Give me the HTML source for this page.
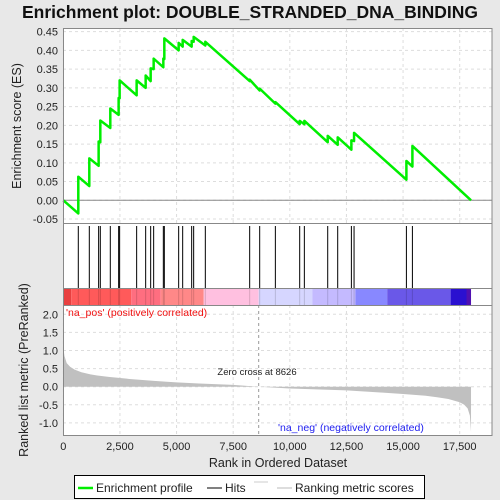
<!DOCTYPE html>
<html><head><meta charset="utf-8"><style>
html,body{margin:0;padding:0;background:#e8e8e8;}
svg{display:block;font-family:"Liberation Sans",sans-serif;}
</style></head><body>
<svg id="chart" width="500" height="500" viewBox="0 0 500 500">
<rect x="0" y="0" width="500" height="500" fill="#e8e8e8"/>
<text x="250" y="18" text-anchor="middle" font-size="17.5" font-weight="bold" fill="#111">Enrichment plot: DOUBLE_STRANDED_DNA_BINDING</text>
<rect x="63" y="28" width="429" height="407" fill="#fff"/>
<g id="grid"></g>
<g id="colorbar"></g>
<g id="metric"></g>
<g id="hits"></g>
<g id="es"></g>
<g id="axes"></g>
<text transform="translate(21,126) rotate(-90)" text-anchor="middle" font-size="12.5" fill="#222">Enrichment score (ES)</text>
<text transform="translate(28,370) rotate(-90)" text-anchor="middle" font-size="12.5" fill="#222">Ranked list metric (PreRanked)</text>
<text x="278" y="467" text-anchor="middle" font-size="12.5" fill="#222">Rank in Ordered Dataset</text>
<text x="66" y="316" font-size="10.5" fill="#f01010">'na_pos' (positively correlated)</text>
<text x="278" y="431" font-size="10.5" fill="#2020f0">'na_neg' (negatively correlated)</text>
<text x="257" y="375" text-anchor="middle" font-size="9.5" fill="#222">Zero cross at 8626</text>
<g>
<rect x="74.5" y="475.5" width="350" height="23" fill="#fff" stroke="#000"/>
<line x1="78" y1="488" x2="93" y2="488" stroke="#00ee00" stroke-width="2.5"/>
<text x="96" y="492" font-size="12" fill="#222">Enrichment profile</text>
<line x1="207" y1="488" x2="222" y2="488" stroke="#000" stroke-width="1"/>
<text x="225" y="492" font-size="12" fill="#222">Hits</text>
<line x1="254" y1="482" x2="268" y2="482" stroke="#ccc" stroke-width="1"/>
<line x1="277" y1="488" x2="292" y2="488" stroke="#bbb" stroke-width="1"/>
<text x="295" y="492" font-size="12" fill="#222">Ranking metric scores</text>
</g>
</svg>
<script>
const hitRanks=[662,1148,1560,1634,2075,2443,2487,3238,3636,3857,3989,4416,4460,5093,5270,5667,5755,6270,8228,8670,9362,10436,10642,11673,12114,12718,12836,15147,15412];
const esBefore=[-0.035,0.038,0.092,0.155,0.193,0.228,0.272,0.28,0.30,0.318,0.35,0.355,0.377,0.40,0.41,0.41,0.423,0.413,0.318,0.293,0.258,0.203,0.203,0.155,0.148,0.135,0.158,0.055,0.09];
const esAfter=[0.063,0.112,0.157,0.213,0.245,0.273,0.32,0.32,0.333,0.352,0.378,0.378,0.432,0.42,0.428,0.425,0.436,0.423,0.322,0.298,0.262,0.212,0.212,0.172,0.168,0.16,0.18,0.105,0.145];
const totalRanks=18000;
const metricRanks=[0,50,150,300,500,800,1200,1500,2000,3000,4000,5000,6000,7500,8626,10000,11000,12500,14000,15000,16000,16500,17000,17500,17700,17850,17950,18000];
const metricVals=[1.1,0.85,0.65,0.55,0.47,0.40,0.34,0.31,0.27,0.21,0.16,0.12,0.09,0.05,0,-0.05,-0.07,-0.1,-0.16,-0.2,-0.25,-0.29,-0.34,-0.43,-0.5,-0.6,-0.8,-1.25];
const esTicks=[0.45,0.40,0.35,0.30,0.25,0.20,0.15,0.10,0.05,0.00,-0.05];
const metricTicks=[2.0,1.5,1.0,0.5,0.0,-0.5,-1.0];
const xTicks=[0,2500,5000,7500,10000,12500,15000,17500];
const barStops=[0,350,3000,4300,6200,8626,11000,12900,14300,17100,17800,18000];
const barColors=["#e84040","#ff5a5a","#ff6e80","#ff8888","#ffc0e0","#d6d6ff","#c4baff","#8888ff","#6a58e8","#2a10d0","#5010b0"];

const NS="http://www.w3.org/2000/svg";
const X=r=>63.3+r*(459.7-63.3)/17500;
const YE=v=>200.3-v*374.8;
const YM=v=>386.7-v*36.2;
function mk(tag,attrs,parent){const e=document.createElementNS(NS,tag);for(const k in attrs)e.setAttribute(k,attrs[k]);parent.appendChild(e);return e;}
const grid=document.getElementById('grid'),axes=document.getElementById('axes');
esTicks.forEach(t=>{
  const g=mk('line',{x1:63,x2:492,y1:YE(t),y2:YE(t),stroke:'#ddd','stroke-dasharray':'3,3'},grid);
  
  
  const tx=mk('text',{x:58,y:YE(t)+4,'text-anchor':'end','font-size':'11',fill:'#222'},axes);
  tx.textContent=t.toFixed(2);
  
  
});
metricTicks.forEach(t=>{
  const g=mk('line',{x1:63,x2:492,y1:YM(t),y2:YM(t),stroke:'#ddd','stroke-dasharray':'3,3'},grid);
  
  
  const tx=mk('text',{x:58,y:YM(t)+4,'text-anchor':'end','font-size':'11',fill:'#222'},axes);
  tx.textContent=t.toFixed(1);
  
  
});
xTicks.forEach(t=>{
  [[28,223],[305,435]].forEach(([a,b])=>{
    const g=mk('line',{x1:X(t),x2:X(t),y1:a,y2:b,stroke:'#ddd','stroke-dasharray':'3,3'},grid);
    
    
  });
  const tx=mk('text',{x:X(t),y:450,'text-anchor':'middle','font-size':'11',fill:'#222'},axes);
  tx.textContent=t.toLocaleString('en-US');
  
  
});
// color bar
const cb=document.getElementById('colorbar');
for(let i=0;i<barColors.length;i++){
  const r=mk('rect',{x:X(barStops[i]),y:288,width:X(barStops[i+1])-X(barStops[i]),height:17,fill:barColors[i]},cb);
  
  
}
// metric
const met=document.getElementById('metric');
let d='M'+X(0)+','+YM(0);
metricRanks.forEach((r,i)=>{d+=' L'+X(r)+','+YM(metricVals[i]);});
d+=' L'+X(totalRanks)+','+YM(0)+' Z';
const mp=mk('path',{d:d,fill:'#c0c0c0',stroke:'none'},met);


const zl=mk('line',{x1:X(8626),x2:X(8626),y1:305,y2:435,stroke:'#999','stroke-dasharray':'3,3'},met);


// hits
const hg=document.getElementById('hits');
hitRanks.forEach(r=>{
  const l=mk('line',{x1:X(r),x2:X(r),y1:226,y2:288,stroke:'#000','stroke-width':1},hg);
  
  
  const l2=mk('line',{x1:X(r),x2:X(r),y1:288,y2:305,stroke:'rgba(0,0,0,0.15)','stroke-width':1},hg);
  
  
});
// ES
const eg=document.getElementById('es');
const zl2=mk('line',{x1:63,x2:492,y1:YE(0),y2:YE(0),stroke:'#888'},eg);


let p='M'+X(0)+','+YE(0);
hitRanks.forEach((r,i)=>{p+=' L'+X(r)+','+YE(esBefore[i])+' L'+X(r)+','+YE(esAfter[i]);});
p+=' L'+X(totalRanks)+','+YE(0);
const ep=mk('path',{d:p,fill:'none',stroke:'#00ee00','stroke-width':2.5,'stroke-linejoin':'round'},eg);


// frames
[[28,223],[223,288],[288,305],[305,435]].forEach(([a,b])=>{
  const r=mk('rect',{x:63.5,y:a+0.5,width:428.5,height:b-a,fill:'none',stroke:'#888'},axes);
  
  
});
</script>
</body></html>
